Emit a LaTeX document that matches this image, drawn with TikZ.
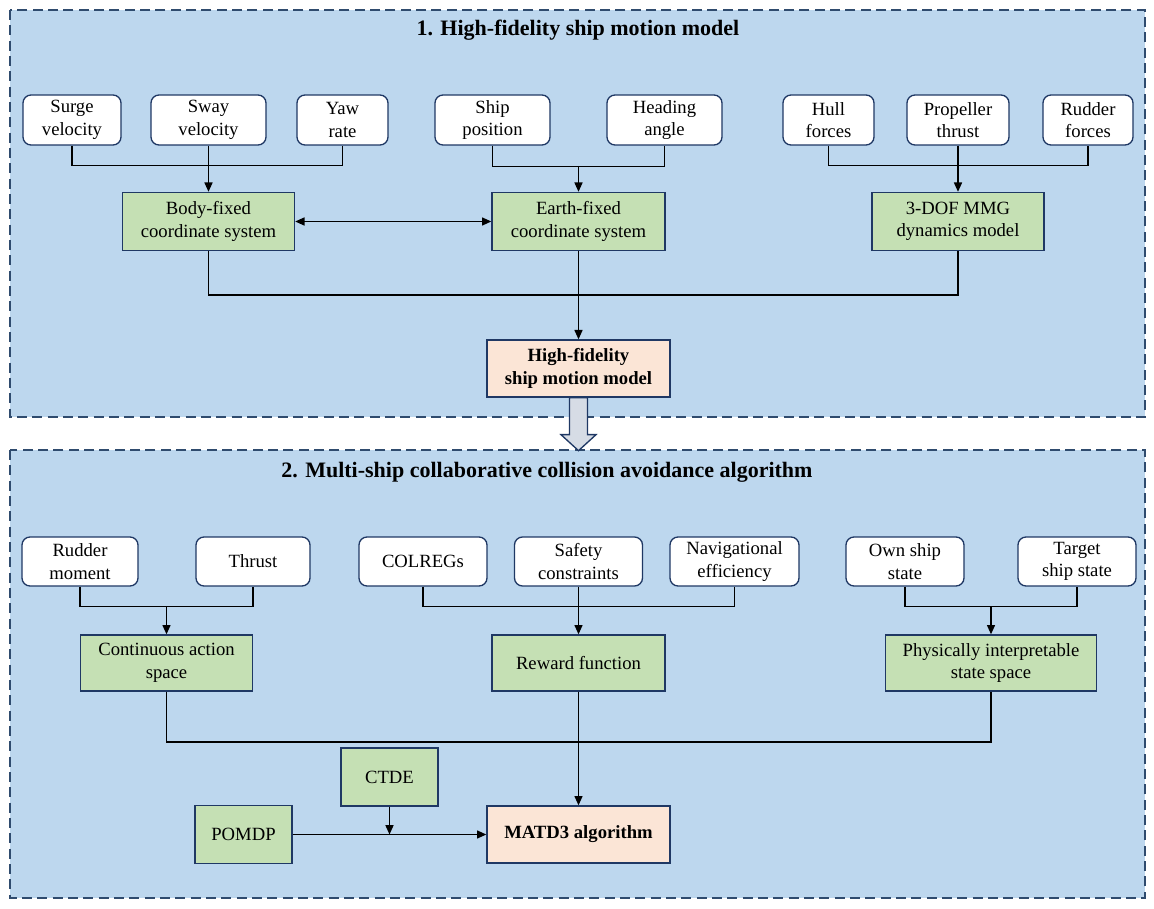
\documentclass[tikz,border=0pt]{standalone}
\usepackage{fontspec}
\setmainfont{Liberation Serif}
\usepackage{tikz}
\usetikzlibrary{arrows.meta,positioning}
\definecolor{cpanel}{HTML}{BDD7EE}
\definecolor{cdash}{HTML}{2F4B6E}
\definecolor{cedge}{HTML}{1F3864}
\definecolor{cgreen}{HTML}{C5E0B4}
\definecolor{cpeach}{HTML}{FBE5D6}
\definecolor{carrow}{HTML}{D6DCE5}
\tikzset{
  panel/.style={draw=cdash, fill=cpanel, line width=1pt, dash pattern=on 7.5pt off 4pt},
  ttl/.style={font=\fontsize{16.5}{20}\selectfont\bfseries},
  box/.style={draw=cedge, line width=1pt, align=center, inner sep=2pt,
    font=\fontsize{14}{17}\selectfont},
  inbox/.style={box, fill=white, rounded corners=6pt, minimum height=37.5pt},
  sysn/.style={box, fill=cgreen, minimum height=43.5pt},
  outn/.style={box, fill=cpeach, minimum height=42.75pt, minimum width=137.25pt,
    font=\fontsize{14}{17}\selectfont\bfseries},
  pre/.style={-{Triangle[length=7pt,width=6pt]}, line width=1.1pt},
  link/.style={line width=1.1pt},
  bigarrow/.style={draw=cedge, fill=carrow, line width=1pt},
}
\begin{document}
\begin{tikzpicture}[x=0.75pt,y=-0.75pt]
\useasboundingbox (0,0) rectangle (1154,909);
% panels
\draw[panel] (10,10) rectangle (1145,417);
\draw[panel] (10,450) rectangle (1145,898);
\node[ttl] (t1) at (578,30) {1. High-fidelity ship motion model};
\node[ttl] (t2) at (547,472) {2. Multi-ship collaborative collision avoidance algorithm};
% (1) inputs
\node[inbox, minimum width=73.5pt] (surge) at (72,120) {Surge\\velocity};
\node[inbox, minimum width=86.25pt] (sway) at (208.5,120) {Sway\\velocity};
\node[inbox, minimum width=68.25pt] (yaw) at (342.5,120) {Yaw\\rate};
\node[inbox, minimum width=86.25pt] (ship) at (492.5,120) {Ship\\position};
\node[inbox, minimum width=86.25pt] (head) at (664.5,120) {Heading\\angle};
\node[inbox, minimum width=68.25pt] (hull) at (828.5,120) {Hull\\forces};
\node[inbox, minimum width=76.5pt] (prop) at (958,120) {Propeller\\thrust};
\node[inbox, minimum width=67.5pt] (rforce) at (1088,120) {Rudder\\forces};
% (1) models
\node[sysn, minimum width=129pt] (body) at (208.5,221.5) {Body-fixed\\coordinate system};
\node[sysn, minimum width=129.75pt] (earth) at (578.5,221.5) {Earth-fixed\\coordinate system};
\node[sysn, minimum width=129pt] (mmg) at (958,221.5) {3-DOF MMG\\dynamics model};
\node[outn] (hf) at (578.5,368.5) {High-fidelity\\ship motion model};
\coordinate (jship) at (578.5,166);
\coordinate (jmodel) at (578.5,295);
\draw[link] (surge.south) -- ++(0,20) -| (yaw.south);
\draw[pre] (sway.south) -- (body.north);
\draw[link] (ship.south) -- ++(0,21) -| (head.south);
\draw[pre] (jship) -- (earth.north);
\draw[link] (hull.south) -- ++(0,20) -| (rforce.south);
\draw[pre] (prop.south) -- (mmg.north);
\draw[pre, {Triangle[length=7pt,width=6pt]}-{Triangle[length=7pt,width=6pt]}] (body.east) -- (earth.west);
\draw[link] (body.south) |- (jmodel) -| (mmg.south);
\draw[pre] (earth.south) -- (hf.north);
% hand-over arrow
\draw[bigarrow] (hf.south) ++(-9,0) -- ++(0,37) -- ++(-8.5,0) -- ++(17.5,16)
  -- ++(17.5,-16) -- ++(-8.5,0) -- ++(0,-37) -- cycle;
% (2) inputs
\node[inbox, minimum height=36.75pt, minimum width=87pt] (rmom) at (80,561.5) {Rudder\\moment};
\node[inbox, minimum height=36.75pt, minimum width=85.5pt] (thr) at (253,561.5) {Thrust};
\node[inbox, minimum height=36.75pt, minimum width=96pt] (colreg) at (423,561.5) {COLREGs};
\node[inbox, minimum height=36.75pt, minimum width=96pt] (safe) at (578.5,561.5) {Safety\\constraints};
\node[inbox, minimum height=36.75pt, minimum width=96.75pt] (nav) at (734.5,561.5) {Navigational\\efficiency};
\node[inbox, minimum height=36.75pt, minimum width=88.5pt] (own) at (905,561.5) {Own ship\\state};
\node[inbox, minimum height=36.75pt, minimum width=88.5pt] (tgt) at (1077,561.5) {Target\\ship state};
% (2) spaces
\node[sysn, minimum height=42pt, minimum width=129pt] (act) at (166.5,663) {Continuous action\\space};
\node[sysn, minimum height=42pt, minimum width=129.75pt] (rew) at (578.5,663) {Reward function};
\node[sysn, minimum height=42pt, minimum width=158.25pt] (state) at (991,663) {Physically interpretable\\state space};
\node[sysn, minimum width=72.75pt] (ctde) at (389.5,777) {CTDE};
\node[sysn, minimum width=72.75pt] (pomdp) at (243.5,834.5) {POMDP};
\node[outn] (matd3) at (578.5,834.5) {MATD3 algorithm};
\coordinate (jact) at (166.5,606);
\coordinate (jstate) at (991,606);
\coordinate (jalg) at (578.5,742);
\coordinate (jctde) at (389.5,834.5);
\draw[link] (rmom.south) -- ++(0,20) -| (thr.south);
\draw[pre] (jact) -- (act.north);
\draw[link] (colreg.south) -- ++(0,20) -| (nav.south);
\draw[pre] (safe.south) -- (rew.north);
\draw[link] (own.south) -- ++(0,20) -| (tgt.south);
\draw[pre] (jstate) -- (state.north);
\draw[link] (act.south) |- (jalg) -| (state.south);
\draw[pre] (rew.south) -- (matd3.north);
\draw[pre] (pomdp.east) -- (matd3.west);
\draw[pre] (ctde.south) -- (jctde);
\end{tikzpicture}
\end{document}
